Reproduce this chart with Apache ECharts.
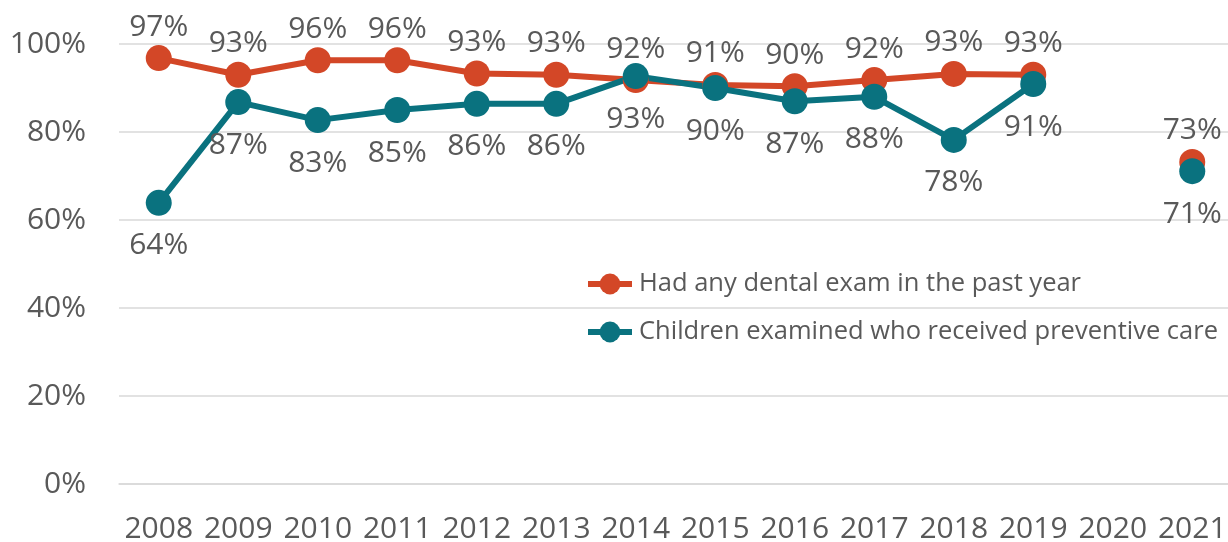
<!DOCTYPE html>
<html>
<head>
<meta charset="utf-8">
<script src="https://cdn.jsdelivr.net/npm/echarts@6/dist/echarts.min.js"></script>
<style>
html,body{margin:0;padding:0;background:#fff;}
#chart{width:1228px;height:542px;}
</style>
</head>
<body>
<div id="chart"></div>
<script>
const years = ['2008','2009','2010','2011','2012','2013','2014','2015','2016','2017','2018','2019','2020','2021'];
const dentalExam = [96.8, 93.0, 96.3, 96.3, 93.3, 93.0, 91.8, 90.7, 90.4, 91.8, 93.2, 93.0, null, 73.2];
const preventiveCare = [63.9, 86.8, 82.7, 85.0, 86.4, 86.4, 92.7, 90.0, 87.0, 88.0, 78.2, 90.9, null, 71.1];
const yTicks = [0, 20, 40, 60, 80, 100];
const seriesNames = ['Had any dental exam in the past year', 'Children examined who received preventive care'];

const FONT = '"Open Sans", "Noto Sans", sans-serif';
const TXT = '#595959';
const FS = 30;
const chart = echarts.init(document.getElementById('chart'), null, {renderer: 'canvas'});
const pct = p => Math.round(p.value) + '%';
chart.setOption({
  animation: false,
  backgroundColor: '#ffffff',
  grid: {left: 119, right: -4, top: 44, bottom: 58, containLabel: false, outerBoundsMode: 'none'},
  legend: {
    orient: 'vertical',
    left: 585, top: 271,
    padding: 0,
    itemWidth: 44, itemHeight: 26, itemGap: 22,
    lineStyle: {width: 6},
    textStyle: {color: TXT, fontSize: 25.5, fontFamily: FONT, padding: [0,0,0,2]},
    data: seriesNames
  },
  xAxis: {
    type: 'category',
    data: years,
    boundaryGap: true,
    axisLine: {show: true, lineStyle: {color: '#d9d9d9', width: 1.5}},
    axisTick: {show: false},
    axisLabel: {color: TXT, fontSize: FS, fontFamily: FONT, margin: 30, interval: 0}
  },
  yAxis: {
    type: 'value',
    min: yTicks[0], max: yTicks[yTicks.length-1], interval: yTicks[1]-yTicks[0],
    axisLine: {show: false},
    axisTick: {show: false},
    splitLine: {lineStyle: {color: '#d9d9d9', width: 1.5}},
    axisLabel: {color: TXT, fontSize: FS, fontFamily: FONT, margin: 33, formatter: '{value}%'}
  },
  series: [
    {
      name: seriesNames[0], type: 'line', data: dentalExam,
      connectNulls: false,
      symbol: 'circle', symbolSize: 26,
      lineStyle: {color: '#D34727', width: 6},
      itemStyle: {color: '#D34727'},
      label: {show: true, position: 'top', distance: 3, color: TXT, fontSize: FS, fontFamily: FONT, formatter: pct}
    },
    {
      name: seriesNames[1], type: 'line', data: preventiveCare,
      connectNulls: false,
      symbol: 'circle', symbolSize: 26,
      lineStyle: {color: '#0A727F', width: 6},
      itemStyle: {color: '#0A727F'},
      label: {show: true, position: 'bottom', distance: 15, color: TXT, fontSize: FS, fontFamily: FONT, formatter: pct}
    }
  ]
});
</script>
</body>
</html>
